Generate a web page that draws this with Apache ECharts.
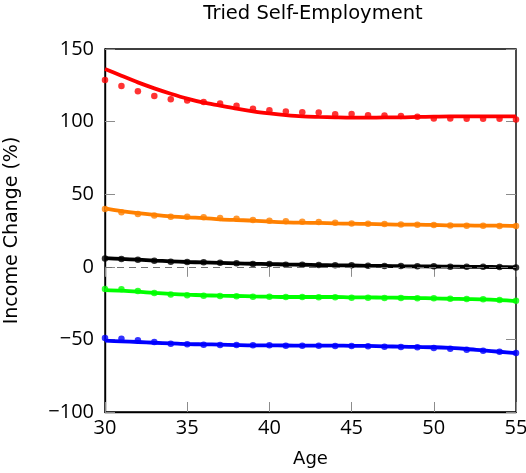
<!DOCTYPE html>
<html>
<head>
<meta charset="utf-8">
<script src="https://cdn.jsdelivr.net/npm/echarts@6/dist/echarts.min.js"></script>
<style>
  html, body { margin: 0; padding: 0; background: #fff; }
  #chart { width: 526px; height: 473px; }
</style>
</head>
<body>
<div id="chart"></div>
<script>
// Ages on the horizontal axis
const ages = [30,31,32,33,34,35,36,37,38,39,40,41,42,43,44,45,46,47,48,49,50,51,52,53,54,55];

// Observed income change (%) per age, one array per group
const redObs    = [128.6,124.6,120.9,117.6,115.4,114.5,113.5,112.4,111.0,108.8,107.9,107.0,106.4,106.2,105.1,105.2,104.4,104.2,103.8,103.4,102.1,102.1,101.9,101.9,101.9,101.5];
const orangeObs = [39.8,37.5,36.4,35.4,34.5,34.5,34.1,33.6,33.1,32.2,31.8,31.3,31.1,30.9,30.4,29.9,29.7,29.5,29.2,29.0,28.8,28.5,28.3,28.3,28.1,28.1];
const blackObs  = [5.8,5.4,4.9,4.2,3.5,3.3,3.1,2.8,2.4,1.9,1.9,1.4,1.4,1.2,1.0,1.0,0.8,0.6,0.6,0.3,0.3,0.1,0.1,0.1,-0.1,-0.4];
const greenObs  = [-15.3,-15.5,-16.7,-18.0,-19.0,-19.6,-19.9,-20.1,-20.3,-20.6,-20.6,-20.8,-20.8,-21.0,-21.0,-21.3,-21.3,-21.5,-21.5,-21.7,-21.7,-22.0,-22.2,-22.4,-22.9,-23.3];
const blueObs   = [-49.0,-49.5,-50.6,-51.8,-53.0,-53.4,-53.6,-53.9,-53.9,-54.1,-54.1,-54.3,-54.3,-54.3,-54.5,-54.5,-54.8,-55.0,-55.2,-55.4,-55.9,-56.4,-57.1,-57.8,-58.5,-59.4];

// Fitted curves per age
const redFit    = [136.2,131.6,127.0,122.9,119.2,115.8,113.0,111.0,108.9,107.1,105.7,104.5,103.6,103.2,102.9,102.7,102.7,102.9,102.9,103.2,103.4,103.6,103.6,103.6,103.6,103.6];
const orangeFit = [40.3,38.4,36.9,35.7,34.7,34.1,33.5,32.7,32.2,31.8,31.1,30.6,30.4,30.2,29.9,29.7,29.5,29.2,29.0,29.0,28.8,28.5,28.5,28.3,28.3,28.1];
const blackFit  = [6.0,5.4,4.9,4.3,3.8,3.3,3.0,2.7,2.4,2.1,1.9,1.6,1.4,1.2,1.0,0.9,0.7,0.6,0.4,0.3,0.2,0.1,0.0,-0.1,-0.2,-0.4];
const greenFit  = [-16.0,-16.4,-17.1,-18.0,-18.7,-19.2,-19.6,-19.9,-20.1,-20.4,-20.6,-20.8,-20.8,-20.8,-20.8,-21.1,-21.1,-21.2,-21.3,-21.5,-21.7,-22.0,-22.2,-22.4,-22.9,-23.6];
const blueFit   = [-50.9,-51.3,-51.8,-52.3,-52.7,-53.2,-53.4,-53.6,-53.9,-54.1,-54.1,-54.2,-54.3,-54.3,-54.3,-54.4,-54.5,-54.8,-55.0,-55.2,-55.4,-55.9,-56.6,-57.6,-58.5,-59.4];

// Axis ticks
const xTicks = [30,35,40,45,50,55];
const yTicks = [-100,-50,0,50,100,150];

const groups = [
  { obs: redObs,    fit: redFit,    color: '#ff0000' },
  { obs: orangeObs, fit: orangeFit, color: '#ff8000' },
  { obs: blackObs,  fit: blackFit,  color: '#000000' },
  { obs: greenObs,  fit: greenFit,  color: '#00ff00' },
  { obs: blueObs,   fit: blueFit,   color: '#0000ff' }
];

const LABEL_FONT = '"Open Sans", "Liberation Sans", sans-serif';
const NAME_FONT = '"DejaVu Sans", "Open Sans", sans-serif';
const minusFmt = v => String(v).replace('-', '\u2212');

const tickStyle = { show: true, inside: true, length: 10, lineStyle: { color: '#8c8c8c', width: 1 } };

const series = [];
// Dashed reference line at zero
series.push({
  type: 'line', data: [], silent: true,
  markLine: {
    silent: true, symbol: 'none', label: { show: false },
    lineStyle: { color: '#707070', type: [7, 5], width: 1.2 },
    data: [{ yAxis: 0 }]
  }
});
groups.forEach(g => {
  series.push({
    type: 'scatter',
    data: ages.map((a, i) => [a, g.obs[i]]),
    symbol: 'circle', symbolSize: 6.5,
    itemStyle: { color: g.color },
    silent: true, z: 3
  });
  series.push({
    type: 'line',
    data: ages.map((a, i) => [a, g.fit[i]]),
    smooth: 0.3, showSymbol: false, symbol: 'none',
    lineStyle: { color: g.color, width: 3.8 },
    silent: true, z: 4
  });
});

const chart = echarts.init(document.getElementById('chart'), null, { renderer: 'canvas' });
chart.setOption({
  animation: false,
  backgroundColor: '#ffffff',
  title: {
    text: 'Tried Self-Employment',
    left: 308, top: -1, textAlign: 'center',
    textStyle: { fontFamily: NAME_FONT, fontSize: 19.5, fontWeight: 'normal', color: '#000' }
  },
  grid: {
    left: 105, right: 10, top: 49, bottom: 61,
    outerBoundsMode: 'none', containLabel: false,
    show: true, borderColor: '#000', borderWidth: 1.4, backgroundColor: 'transparent'
  },
  xAxis: [
    {
      type: 'value', min: xTicks[0], max: xTicks[xTicks.length - 1], interval: 5,
      name: 'Age', nameLocation: 'middle', nameGap: 38,
      nameTextStyle: { fontFamily: NAME_FONT, fontSize: 18, color: '#000' },
      axisLine: { show: true, onZero: false, lineStyle: { color: '#000', width: 1.4 } },
      axisTick: tickStyle,
      axisLabel: { fontFamily: LABEL_FONT, fontSize: 20, color: '#000', margin: 6 },
      splitLine: { show: false }
    },
    {
      type: 'value', position: 'top', min: xTicks[0], max: xTicks[xTicks.length - 1], interval: 5,
      axisLine: { show: false }, axisTick: tickStyle,
      axisLabel: { show: false }, splitLine: { show: false }
    }
  ],
  yAxis: [
    {
      type: 'value', min: yTicks[0], max: yTicks[yTicks.length - 1], interval: 50,
      name: 'Income Change (%)', nameLocation: 'middle', nameGap: 83,
      nameTextStyle: { fontFamily: NAME_FONT, fontSize: 19, color: '#000' },
      axisLine: { show: true, onZero: false, lineStyle: { color: '#000', width: 1.4 } },
      axisTick: tickStyle,
      axisLabel: { fontFamily: LABEL_FONT, fontSize: 20, color: '#000', margin: 11, formatter: minusFmt },
      splitLine: { show: false }
    },
    {
      type: 'value', position: 'right', min: yTicks[0], max: yTicks[yTicks.length - 1], interval: 50,
      axisLine: { show: false }, axisTick: tickStyle,
      axisLabel: { show: false }, splitLine: { show: false }
    }
  ],
  series: series
});
</script>
</body>
</html>
